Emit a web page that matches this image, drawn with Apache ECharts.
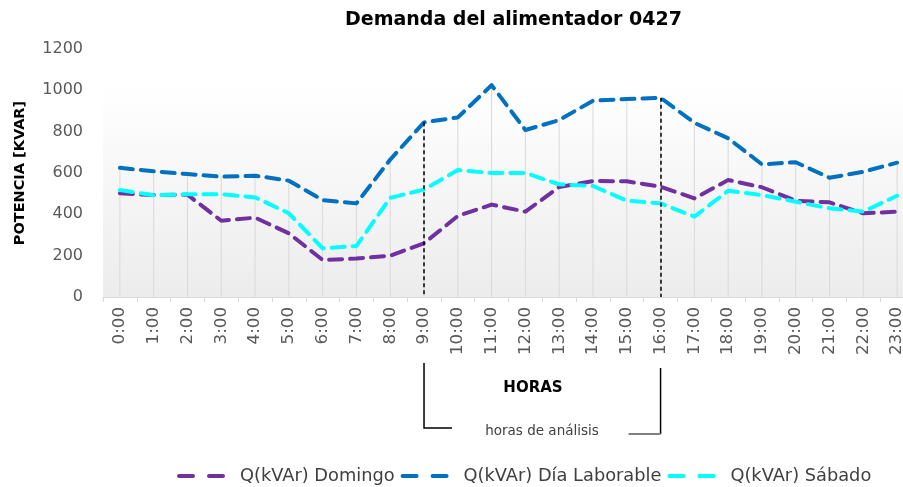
<!DOCTYPE html>
<html>
<head>
<meta charset="utf-8">
<script src="https://cdn.jsdelivr.net/npm/echarts@6/dist/echarts.min.js"></script>
<style>
  html, body { margin: 0; padding: 0; background: #fff; overflow: hidden; }
  /* el grafico original queda recortado por la derecha */
  #main { width: 914px; height: 487px; }
</style>
</head>
<body>
<div id="main"></div>
<script>
const hours = ['0:00', '1:00', '2:00', '3:00', '4:00', '5:00', '6:00', '7:00', '8:00', '9:00', '10:00', '11:00',
  '12:00', '13:00', '14:00', '15:00', '16:00', '17:00', '18:00', '19:00', '20:00', '21:00', '22:00', '23:00']
const domingo = [502, 493, 495, 369, 384, 308, 179, 186, 200, 260, 392, 447, 413, 532, 561, 560, 534, 477, 566, 531, 466, 458, 405, 413]
const laborable = [625, 608, 595, 582, 587, 563, 469, 453, 665, 845, 869, 1025, 808, 856, 950, 958, 964, 843, 768, 642, 652, 577, 606, 650]
const sabado = [518, 492, 497, 497, 482, 405, 235, 247, 480, 520, 614, 600, 600, 545, 537, 466, 453, 389, 514, 493, 461, 429, 413, 490]
const yTicks = { min: 0, max: 1200, interval: 200 }
// horas de análisis
const inicio = '9:00'
const fin = '16:00'

const FONT = 'DejaVu Sans'
const dash = [13, 8]
// icono de leyenda: dos trazos
const iconDash = 'path://M2,0 h14 a2,2 0 0 1 0,4 h-14 a2,2 0 0 1 0,-4 z M32,0 h14 a2,2 0 0 1 0,4 h-14 a2,2 0 0 1 0,-4 z'

// lineas de caida: desde el punto mas alto hasta el eje
const caida = hours.map((h, i) => Math.max(domingo[i], laborable[i], sabado[i]))

const chart = echarts.init(document.getElementById('main'))

function serie(name, data, color) {
  return {
    name,
    type: 'line',
    data,
    symbol: 'none',
    z: 3,
    lineStyle: { color, width: 4, type: dash, cap: 'round', join: 'round' },
    itemStyle: { color }
  }
}

const iIni = hours.indexOf(inicio)
const iFin = hours.indexOf(fin)

const lab = serie('Q(kVAr) Día Laborable', laborable, '#0070C0')
lab.markLine = {
  silent: true,
  symbol: 'none',
  label: { show: false },
  lineStyle: { color: '#000', width: 1.5, type: [4, 3] },
  data: [
    [{ coord: [inicio, laborable[iIni]] }, { coord: [inicio, 0] }],
    [{ coord: [fin, laborable[iFin]] }, { coord: [fin, 0] }]
  ]
}

const option = {
  animation: false,
  textStyle: { fontFamily: FONT },
  title: {
    text: 'Demanda del alimentador 0427',
    left: 340,
    top: 6,
    textStyle: { fontFamily: FONT, fontSize: 19, fontWeight: 'bold', color: '#000' }
  },
  grid: {
    left: 103,
    right: 0,
    top: 49,
    bottom: 190,
    show: true,
    borderWidth: 0,
    backgroundColor: new echarts.graphic.LinearGradient(0, 0, 0, 1, [
      { offset: 0, color: '#ffffff' },
      { offset: 0.15, color: '#ffffff' },
      { offset: 1, color: '#ececec' }
    ])
  },
  legend: {
    data: [
      { name: 'Q(kVAr) Domingo', icon: iconDash },
      { name: 'Q(kVAr) Día Laborable', icon: iconDash },
      { name: 'Q(kVAr) Sábado', icon: iconDash }
    ],
    left: 172,
    top: 462,
    itemWidth: 48,
    itemHeight: 4,
    itemGap: 6,
    textStyle: { fontFamily: FONT, fontSize: 17.8, color: '#404040', padding: [0, 0, 0, 10] }
  },
  xAxis: {
    type: 'category',
    data: hours,
    boundaryGap: true,
    axisLine: { lineStyle: { color: '#d9d9d9', width: 1 } },
    axisTick: { show: true, length: 5, lineStyle: { color: '#d9d9d9' } },
    axisLabel: { rotate: 90, interval: 0, margin: 10, fontSize: 16.7, color: '#595959', fontFamily: FONT },
    splitLine: { show: false }
  },
  yAxis: {
    type: 'value',
    min: yTicks.min,
    max: yTicks.max,
    interval: yTicks.interval,
    name: 'POTENCIA [KVAR]',
    nameLocation: 'middle',
    nameRotate: 90,
    nameGap: 75,
    nameTextStyle: { fontFamily: FONT, fontSize: 14.5, fontWeight: 'bold', color: '#000' },
    axisLine: { show: false },
    axisTick: { show: false },
    splitLine: { show: false },
    axisLabel: { margin: 20, fontSize: 16, color: '#595959', fontFamily: FONT, formatter: v => String(v) }
  },
  series: [
    {
      name: 'caida',
      type: 'bar',
      data: caida,
      barWidth: 1,
      silent: true,
      z: 1,
      itemStyle: { color: '#d9d9d9' }
    },
    serie('Q(kVAr) Domingo', domingo, '#7030A0'),
    lab,
    serie('Q(kVAr) Sábado', sabado, '#00FFFF')
  ]
}

chart.setOption(option)

// anotaciones bajo el eje
const x1 = chart.convertToPixel({ xAxisIndex: 0 }, inicio)
const x2 = chart.convertToPixel({ xAxisIndex: 0 }, fin)
chart.setOption({
  graphic: [
    {
      type: 'text', x: 533, y: 388,
      style: { text: 'HORAS', fontFamily: FONT, fontSize: 15, fontWeight: 'bold', fill: '#000', align: 'center', verticalAlign: 'middle' }
    },
    {
      type: 'text', x: 542, y: 431,
      style: { text: 'horas de análisis', fontFamily: FONT, fontSize: 13.5, fill: '#404040', align: 'center', verticalAlign: 'middle' }
    },
    {
      type: 'polyline',
      shape: { points: [[x1, 363], [x1, 428], [x1 + 28, 428]] },
      style: { stroke: '#000', lineWidth: 1.5, fill: null }
    },
    {
      type: 'line',
      shape: { x1: x2, y1: 368, x2: x2, y2: 434 },
      style: { stroke: '#000', lineWidth: 1.5 }
    },
    {
      type: 'line',
      shape: { x1: x2 - 32, y1: 434, x2: x2, y2: 434 },
      style: { stroke: '#808080', lineWidth: 2 }
    }
  ]
})
</script>
</body>
</html>
